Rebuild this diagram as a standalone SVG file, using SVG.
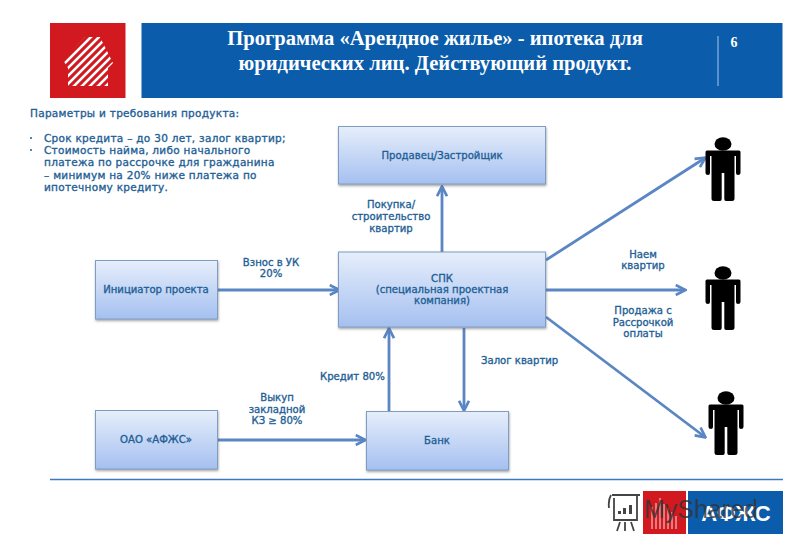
<svg xmlns="http://www.w3.org/2000/svg" width="800" height="554" viewBox="0 0 800 554">
<style>
.t{font-family:"DejaVu Sans",Verdana,sans-serif;font-size:10.1px;font-weight:400;fill:#1f5f96;stroke:#1f5f96;stroke-width:.35px}
.q{font-size:10.5px;letter-spacing:.28px}
.c{text-anchor:middle}
.h{font-family:"Liberation Serif","Times New Roman",serif;font-size:20.6px;font-weight:700;fill:#fff;text-anchor:middle}
.box{fill:url(#g);stroke:#7f9cc4;stroke-width:1;filter:url(#s)}
.con{stroke:#5a86c4;stroke-width:2.8;fill:none;marker-end:url(#a)}
</style>
<defs>
<linearGradient id="g" x1="0" y1="0" x2="0" y2="1"><stop offset="0" stop-color="#e6eefb"/><stop offset="1" stop-color="#a5c0f0"/></linearGradient>
<filter id="s" x="-5%" y="-10%" width="110%" height="125%"><feDropShadow dx="0.5" dy="1.5" stdDeviation="1" flood-color="#555" flood-opacity=".55"/></filter>
<marker id="a" viewBox="0 0 10 10" refX="8.5" refY="5" markerWidth="4.4" markerHeight="4.4" orient="auto"><path d="M1 1L9 5L1 9" fill="none" stroke="#5a86c4" stroke-width="2.2"/></marker>
<clipPath id="house"><path d="M63 60L85 37H100L113 63L108 68V86H68V68Z"/></clipPath>
<g id="p"><ellipse cx="0" cy="-16" rx="8.500" ry="6.800"/><path d="M-17.500-8Q-17.500-9.500-16-9.500H16Q17.500-9.500 17.500-8V13Q17.500 15 15 15Q13 15 13 13V-4H11.500V39Q11.500 41 9 41H3Q1.300 41 1.300 39V13H-1.300V39Q-1.300 41-3 41H-9Q-11.500 41-11.500 39V-4H-13V13Q-13 15-15 15Q-17.500 15-17.500 13Z"/></g>
</defs>
<rect width="800" height="554" fill="#fff"/>
<g id="header">
<rect x="50" y="23" width="75.500" height="75" fill="#d2191f"/>
<g clip-path="url(#house)" stroke="#fff" stroke-width="2.600">
<path d="M50 70L100 20M50 78L105 23M50 86L110 26M50 94L115 29M55 97L120 32M60 100L125 35M66 102L125 43M72 104L125 51M78 106L125 59M84 108L125 67M90 110L125 75"/>
</g>
<rect x="141.500" y="23" width="641" height="75" fill="#0b5cab"/>
<text class="h" x="435" y="44.500">Программа «Арендное жилье» - ипотека для</text>
<text class="h" x="435" y="69.500">юридических лиц. Действующий продукт.</text>
<line x1="718" y1="36" x2="718" y2="86" stroke="#a9c6e6" stroke-width="1"/>
<text x="734" y="47" font-family="Liberation Serif, serif" font-size="14" font-weight="700" fill="#fff" text-anchor="middle">6</text>
</g>
<g id="params">
<text class="t q" x="30" y="117">Параметры и требования продукта:</text>
<circle cx="31" cy="138" r="1" fill="#1f5f96"/><circle cx="31" cy="150" r="1" fill="#1f5f96"/>
<text class="t q" x="44" y="142">Срок кредита – до 30 лет, залог квартир;</text>
<text class="t q" x="44" y="154">Стоимость найма, либо начального</text>
<text class="t q" x="44" y="166">платежа по рассрочке для гражданина</text>
<text class="t q" x="44" y="179">– минимум на 20% ниже платежа по</text>
<text class="t q" x="44" y="191">ипотечному кредиту.</text>
</g>
<g id="connectors">
<path class="con" d="M442 252V187"/>
<path class="con" d="M218 290H339"/>
<path class="con" d="M546 260L705 158"/>
<path class="con" d="M546 290H685"/>
<path class="con" d="M546 317L705 437"/>
<path class="con" d="M464 328V410"/>
<path class="con" d="M389 411V329"/>
<path class="con" d="M218 440H365"/>
</g>
<g id="seller"><rect class="box" x="338.500" y="126.500" width="207" height="57.500"/><text class="t c" x="442" y="159">Продавец/Застройщик</text></g>
<g id="spk"><rect class="box" x="338.500" y="252" width="207" height="75"/><text class="t c" x="442" y="282">СПК</text><text class="t c" x="442" y="293">(специальная проектная</text><text class="t c" x="442" y="304">компания)</text></g>
<g id="initiator"><rect class="box" x="95.500" y="260.500" width="122" height="58.500"/><text class="t c" x="156" y="293">Инициатор проекта</text></g>
<g id="afzhs"><rect class="box" x="95.500" y="410.500" width="122" height="58.500"/><text class="t c" x="156" y="443">ОАО «АФЖС»</text></g>
<g id="bank"><rect class="box" x="366.500" y="411.500" width="142" height="58.500"/><text class="t c" x="437" y="444">Банк</text></g>
<g id="labels">
<text class="t c" x="271" y="266">Взнос в УК</text><text class="t c" x="271" y="277">20%</text>
<text class="t c" x="391" y="208">Покупка/</text><text class="t c" x="391" y="220">строительство</text><text class="t c" x="391" y="232">квартир</text>
<text class="t c" x="643" y="258">Наем</text><text class="t c" x="643" y="269">квартир</text>
<text class="t c" x="643" y="314">Продажа с</text><text class="t c" x="643" y="326">Рассрочкой</text><text class="t c" x="643" y="337">оплаты</text>
<text class="t" x="481" y="364">Залог квартир</text>
<text class="t" x="320" y="380">Кредит 80%</text>
<text class="t c" x="277" y="401">Выкуп</text><text class="t c" x="277" y="413">закладной</text><text class="t c" x="277" y="424">КЗ ≥ 80%</text>
</g>
<g id="people" fill="#000">
<use href="#p" x="723" y="160"/>
<use href="#p" x="723" y="289"/>
<use href="#p" x="726" y="414"/>
</g>
<g id="footer">
<line x1="50" y1="479.500" x2="783" y2="479.500" stroke="#3d78c0" stroke-width="1.500"/>
<rect x="643" y="491" width="43" height="43" fill="#d2191f"/>
<g stroke="#fff" stroke-width="1" opacity=".85"><path d="M652 529V507M656 529V503M660 529V498M664 529V504M668 529V508M672 529V512M676 529V516"/></g>
<rect x="688" y="491" width="95" height="43" fill="#0b5cab"/>
<text x="736" y="521" font-family="Liberation Sans,sans-serif" font-size="22" font-weight="700" fill="#fff" text-anchor="middle">АФЖС</text>
<text x="644" y="518" font-family="Liberation Sans,sans-serif" font-size="25" fill="#333" fill-opacity=".8">MyShared</text>
<g fill="none" stroke="#444" stroke-width="1.800"><path d="M612 495H640M611 495Q608 500 609 508M614 498V520H637V495"/><path d="M620 522L617 531M625 522V531M631 522L634 531"/></g>
<path d="M618 514h3v-3h-3zM623 514h3v-6h-3zM629 514h3v-9h-3z" fill="#444"/>
</g>
</svg>
